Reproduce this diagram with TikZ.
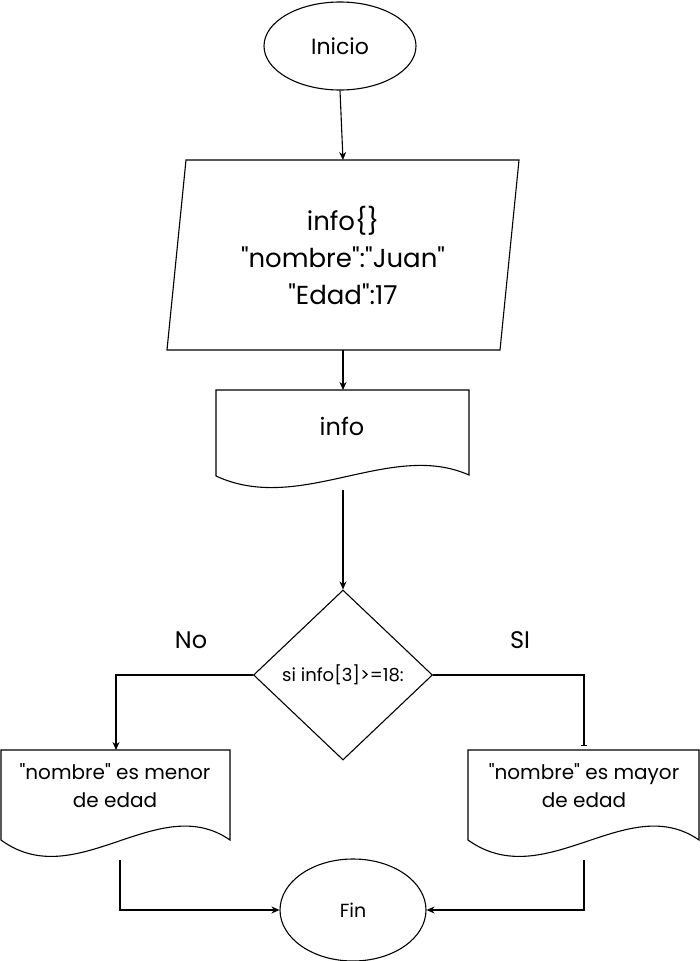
\documentclass[tikz,border=0pt]{standalone}
\usepackage{fontspec}
\setmainfont{Poppins}[Ligatures=TeXOff]
\usetikzlibrary{shapes.geometric,arrows.meta}

\begin{document}
\begin{tikzpicture}
		[%%%%%%%%%%%%%%%%%%%%%%%%%%%%%%
		x=1pt,y=-1pt,
		linea/.style={draw=black,line width=1.1pt},
		flecha/.style={draw=black,line width=1.1pt,-{Stealth[length=8pt,width=7pt]}},
		texto/.style={align=center,font=\fontsize{20}{28}\selectfont},
		]%%%%%%%%%%%%%%%%%%%%%%%%%%%%%%
		\useasboundingbox (0,0) rectangle (700,961);
		
		% inicio y fin
		\node[ellipse,linea,minimum width=152pt,minimum height=88pt,font=\fontsize{22}{26}\selectfont] (inicio) at (340,46) {Inicio};
		\node[ellipse,linea,minimum width=146pt,minimum height=102pt,font=\fontsize{19}{22}\selectfont] (fin) at (353,910) {Fin};
		
		% datos
		\draw[linea] (186,160) -- (519,160) -- (500,350) -- (167,350) -- cycle;
		\node[align=center,font=\fontsize{26}{37}\selectfont] (datos) at (343,255) {info\{\}\\"nombre":"Juan"\\"Edad":17};
		\coordinate (datosN) at (343,160);
		\coordinate (datosS) at (343,350);
		
		% salida info
		\draw[linea] (216,390) -- (469,390) -- (469,475) .. controls (390,440) and (300,515) .. (216,476) -- cycle;
		\node[font=\fontsize{24}{28}\selectfont] (info) at (342,426) {info};
		\coordinate (infoN) at (343,390);
		\coordinate (infoS) at (343,490);
		
		% decision
		\node[diamond,linea,minimum width=179pt,minimum height=170pt,inner sep=0pt,font=\fontsize{18}{22}\selectfont] (decision) at (343,675) {si info[3]>=18:};
		\node[font=\fontsize{24}{28}\selectfont] (no) at (191,640) {No};
		\node[font=\fontsize{24}{28}\selectfont] (si) at (520,640) {SI};
		
		% menor y mayor
		\draw[linea] (1,750) -- (230,750) -- (230,840) .. controls (158,790) and (76,895) .. (1,840) -- cycle;
		\node[texto] (menor) at (115,786) {"nombre" es menor\\de edad};
		\coordinate (menorN) at (116,750);
		\coordinate (menorS) at (120,860);
		\draw[linea] (468,750) -- (699,750) -- (699,840) .. controls (627,790) and (545,895) .. (468,840) -- cycle;
		\node[texto] (mayor) at (584,786) {"nombre" es mayor\\de edad};
		\coordinate (mayorN) at (584,746);
		\coordinate (mayorS) at (584,860);
		
		% conectores
		\draw[flecha] (inicio.south) -- (datosN);
		\draw[flecha] (datosS) -- (infoN);
		\draw[flecha] (infoS) -- (decision.north);
		\draw[flecha] (decision.west) -| (menorN);
		\draw[line width=1.1pt,-{Bar[width=6pt]}] (decision.east) -| (mayorN);
		\draw[flecha] (menorS) |- (fin.west);
		\draw[flecha] (mayorS) |- (fin.east);
\end{tikzpicture}
\end{document}
